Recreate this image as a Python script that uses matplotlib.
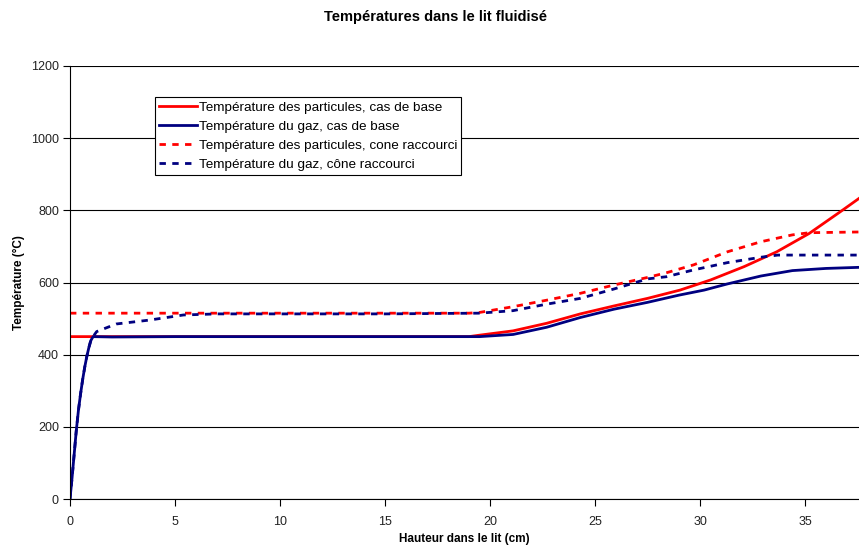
import matplotlib
matplotlib.use("Agg")
import matplotlib.pyplot as plt
import numpy as np

plt.rcParams['font.family'] = ['Liberation Sans', 'DejaVu Sans']

# -------- données --------

x_part_base = [0, 5, 10, 15, 19.0, 19.5, 21.1, 22.7, 24.3, 25.9, 27.5, 29.05, 30.5,
               32.1, 33.65, 35.2, 36.8, 37.57]
t_part_base = [450, 450, 450, 450, 450, 454, 466, 487, 513, 535, 556, 579, 607,
               644, 685, 736, 801, 833]

x_gaz_base = [0, 0.1, 0.2, 0.3, 0.4, 0.5, 0.6, 0.7, 0.8, 0.9, 1.0, 1.1, 2, 5, 10, 15,
              19.5, 21.1, 22.7, 24.3, 25.9, 27.5, 29.0, 30.2, 31.3, 32.9, 34.4, 36.0, 37.57]
t_gaz_base = [0, 60, 125, 190, 245, 290, 330, 365, 395, 420, 440, 450, 449, 450, 450, 450,
              450, 456, 476, 503, 526, 545, 565, 579, 596, 618, 633, 639, 642]

x_part_cone = [0, 5, 10, 15, 19.0, 19.5, 21.1, 22.7, 24.3, 25.9, 27.5, 28.4, 29.7,
               31.3, 32.9, 34.4, 35.2, 37.57]
t_part_cone = [515, 515, 515, 515, 515, 517, 533, 551, 570, 593, 614, 627, 649,
               685, 713, 732, 738, 740]

x_gaz_cone = [0, 0.1, 0.2, 0.3, 0.4, 0.5, 0.6, 0.7, 0.8, 0.9, 1.0, 1.27, 2.2, 3.8, 5.4, 7,
              10, 15, 19.5, 21.1, 22.7, 24.3, 25.9, 27.5, 28.4, 29.7, 31.3, 32.9, 33.7, 37.57]
t_gaz_cone = [0, 60, 125, 190, 245, 290, 330, 365, 395, 420, 442, 464, 485, 496, 510, 513,
              513, 513, 515, 522, 540, 556, 582, 610, 616, 635, 655, 670, 676, 676]

series = [
    (x_part_base, t_part_base, "Température des particules, cas de base", "#FF0000", "-"),
    (x_gaz_base, t_gaz_base, "Température du gaz, cas de base", "#000080", "-"),
    (x_part_cone, t_part_cone, "Température des particules, cone raccourci", "#FF0000", "--"),
    (x_gaz_cone, t_gaz_cone, "Température du gaz, cône raccourci", "#000080", "--"),
]

y_ticks = [0, 200, 400, 600, 800, 1000, 1200]
x_ticks = [0, 5, 10, 15, 20, 25, 30, 35]

# -------- tracé --------

fig = plt.figure(figsize=(8.59, 5.48), dpi=100)
ax = fig.add_axes([70/859, 49/548, 789/859, 433/548])

for xs, ys, label, color, style in series:
    line, = ax.plot(xs, ys, color=color, linestyle=style, linewidth=2.0, label=label)
    if style == "--":
        line.set_dashes((2.3, 2.3))

ax.set_xlim(0, 37.57)
ax.set_ylim(0, 1200)
ax.set_xticks(x_ticks)
ax.set_yticks(y_ticks)
ax.tick_params(axis='both', direction='out', length=5, width=0.8,
               labelsize=9, colors='black', pad=3)
ax.tick_params(axis='x', pad=7.5)
for lab in ax.get_xticklabels() + ax.get_yticklabels():
    lab.set_color('#222222')

ax.grid(axis='y', color='black', linewidth=0.8)
ax.set_axisbelow(True)
ax.spines['top'].set_visible(False)
ax.spines['right'].set_visible(False)
ax.spines['left'].set_linewidth(0.8)
ax.spines['bottom'].set_linewidth(0.8)

ax.set_xlabel("Hauteur dans le lit (cm)", fontsize=8.5, fontweight='bold', labelpad=3.5)
ax.set_ylabel("Température (°C)", fontsize=8.5, fontweight='bold', labelpad=4)
fig.text(436/859, 1 - 17/548, "Températures dans le lit fluidisé",
         ha='center', va='center', fontsize=10.5, fontweight='bold')

leg = ax.legend(loc='upper left', bbox_to_anchor=(0.108, 0.928), fontsize=9.7,
                frameon=True, fancybox=False, edgecolor='black', framealpha=1,
                borderpad=0.3, labelspacing=0.5, handlelength=2.8,
                handletextpad=0.15, borderaxespad=0)
leg.get_frame().set_linewidth(0.8)

fig.savefig("out.png", dpi=100)
